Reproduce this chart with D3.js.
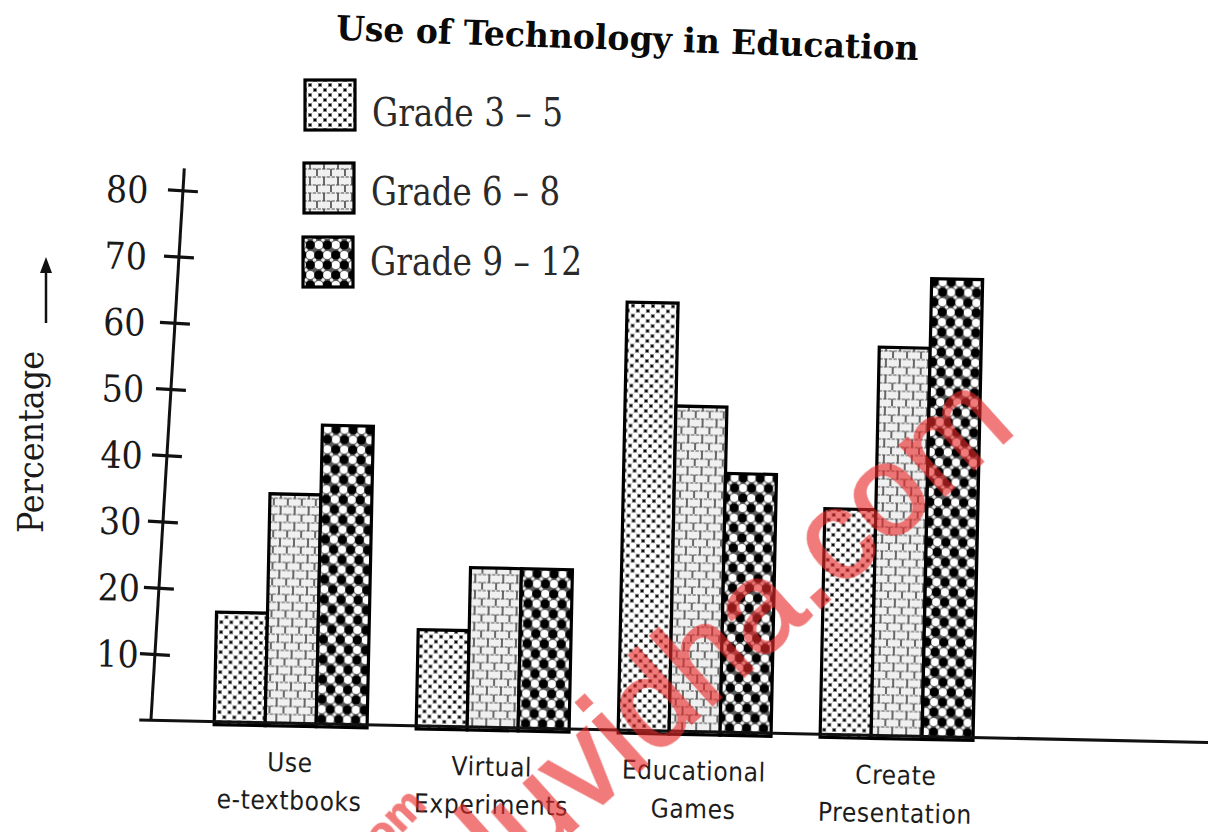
<!DOCTYPE html>
<html><head><meta charset="utf-8">
<script src="https://cdn.jsdelivr.net/npm/d3@7"></script>
<style>body{margin:0;background:#fff}svg{display:block}</style>
</head><body><svg id="c" width="1208" height="832"></svg>
<script>
// ---- data ----
const categories = [["Use","e-textbooks"],["Virtual","Experiments"],["Educational","Games"],["Create","Presentation"]];
const seriesNames = ["Grade 3 \u2013 5","Grade 6 \u2013 8","Grade 9 \u2013 12"];
const grade3to5  = [16.5, 14.5, 64.5, 34];
const grade6to8  = [34.5, 24, 49, 58.5];
const grade9to12 = [45, 24, 39, 69];
const yTicks = [10,20,30,40,50,60,70,80];
const title = "Use of Technology in Education";
const yLabel = "Percentage";
const watermark = "eduvidha.com";

const series = [grade3to5, grade6to8, grade9to12];
const patIds = ["p35","p68","p912"];

const svg = d3.select("#c");
const defs = svg.append("defs");

// pattern: Grade 3-5 (pebbles)
const p1 = defs.append("pattern").attr("id","p35").attr("patternUnits","userSpaceOnUse").attr("width",10).attr("height",10);
p1.append("rect").attr("width",10).attr("height",10).attr("fill","#454545");
[[0,0],[10,0],[0,10],[10,10],[5,5]].forEach(([cx,cy])=>p1.append("circle").attr("cx",cx).attr("cy",cy).attr("r",3.45).attr("fill","#fff"));
[[5,0],[0,5],[10,5],[5,10]].forEach(([cx,cy])=>p1.append("circle").attr("cx",cx).attr("cy",cy).attr("r",1.3).attr("fill","#000"));

// pattern: Grade 6-8 (bricks)
const p2 = defs.append("pattern").attr("id","p68").attr("patternUnits","userSpaceOnUse").attr("width",14).attr("height",16);
p2.append("rect").attr("width",14).attr("height",16).attr("fill","#f0f0f0");
p2.append("path").attr("d","M0,1H14M0,9H14").attr("stroke","#858585").attr("stroke-width",1.7).attr("stroke-dasharray","3.5,1.2");
p2.append("path").attr("d","M2,1V9M9,9V17").attr("stroke","#505050").attr("stroke-width",1.7);

// pattern: Grade 9-12 (dark dots)
const p3 = defs.append("pattern").attr("id","p912").attr("patternUnits","userSpaceOnUse").attr("width",17).attr("height",20);
p3.append("rect").attr("width",17).attr("height",20).attr("fill","#5a5a5a");
[[12.75,5],[4.25,15],[-4.25,15],[21.25,15],[12.75,25],[12.75,-5]].forEach(([cx,cy])=>p3.append("circle").attr("cx",cx).attr("cy",cy).attr("r",4.0).attr("fill","#fff"));
[[4.25,5],[12.75,15]].forEach(([cx,cy])=>p3.append("circle").attr("cx",cx).attr("cy",cy).attr("r",4.5).attr("fill","#000"));
[[0,10],[17,10],[8.5,0],[8.5,20],[0,0],[17,0],[0,20],[17,20]].forEach(([cx,cy])=>p3.append("circle").attr("cx",cx).attr("cy",cy).attr("r",1.8).attr("fill","#eee"));

const serifC = "'DejaVu Serif Condensed','DejaVu Serif',serif";
const sansC = "'DejaVu Sans Condensed','DejaVu Sans',sans-serif";

// ---- chart (slightly rotated like the scan) ----
const g = svg.append("g").attr("transform","rotate(1.2,600,450)");

const x = d3.scaleBand().domain(d3.range(categories.length)).range([220,979]).paddingInner(0.243).paddingOuter(0);
const xs = d3.scaleBand().domain(d3.range(series.length)).range([0,x.bandwidth()]);
const y = d3.scaleLinear().domain([0,80]).range([729.6,198.7]);

const barData = [];
categories.forEach((c,i)=>series.forEach((s,j)=>barData.push({i,j,v:s[i]})));

g.selectAll("rect.bar").data(barData).join("rect").attr("class","bar")
  .attr("x",d=>x(d.i)+xs(d.j)).attr("width",xs.bandwidth())
  .attr("y",d=>y(d.v)).attr("height",d=>y(0)-y(d.v)+3)
  .attr("fill",d=>`url(#${patIds[d.j]})`).attr("stroke","#000").attr("stroke-width",3.2);

// baseline
g.append("line").attr("x1",145).attr("x2",1220).attr("y1",y(0)).attr("y2",y(0)).attr("stroke","#111").attr("stroke-width",3);

// y axis (hand-drawn tilt)
const ax0 = 156.7;
const axG = g.append("g").attr("transform",`rotate(2.26,${ax0},${y(0)})`);
axG.append("line").attr("x1",ax0).attr("x2",ax0).attr("y1",y(0)).attr("y2",y(80)-22).attr("stroke","#111").attr("stroke-width",3);
const tickG = axG.append("g").attr("transform",`translate(${ax0+15},0)`)
  .call(d3.axisLeft(y).tickValues(yTicks).tickSize(30).tickFormat(""));
tickG.select(".domain").remove();
tickG.selectAll(".tick line").attr("stroke","#111").attr("stroke-width",3.2);

// tick labels
const lblG = g.append("g").attr("transform","translate(143,0)")
  .call(d3.axisLeft(y).tickValues(yTicks).tickSize(0).tickPadding(0));
lblG.select(".domain").remove();
lblG.selectAll(".tick line").remove();
lblG.selectAll(".tick text").attr("font-family",serifC).attr("font-size",37).attr("fill","#1a1a1a").attr("dy","0.36em");

// category labels
const catT = g.selectAll("text.cat").data(categories).join("text").attr("class","cat")
  .attr("text-anchor","middle").attr("font-family",sansC).attr("font-size",26).attr("fill","#1c1c1c").attr("letter-spacing",0.6);
catT.each(function(d,i){
  const t = d3.select(this);
  d.forEach((line,k)=>t.append("tspan").attr("x",x(i)+x.bandwidth()/2).attr("y",778+k*38).text(line));
});

// ---- title ----
svg.append("text").attr("transform","translate(627,50) rotate(2)").attr("text-anchor","middle")
  .attr("font-family",serifC).attr("font-weight","bold").attr("font-size",34).attr("fill","#0a0a0a")
  .attr("textLength",583).attr("lengthAdjust","spacingAndGlyphs").text(title);

// ---- legend ----
const legTop = [80,163,237], legLen = [191,189,212];
const leg = svg.selectAll("g.leg").data(seriesNames).join("g").attr("class","leg");
leg.append("rect").attr("x",(d,i)=>305-i).attr("y",(d,i)=>legTop[i]).attr("width",50).attr("height",50)
  .attr("fill",(d,i)=>`url(#${patIds[i]})`).attr("stroke","#000").attr("stroke-width",3.2);
leg.append("text").attr("x",(d,i)=>372-i).attr("y",(d,i)=>legTop[i]+46-i*4)
  .attr("font-family",serifC).attr("font-size",40).attr("fill","#2a2a2a")
  .attr("textLength",(d,i)=>legLen[i]).attr("lengthAdjust","spacingAndGlyphs").text(d=>d);

// ---- y label + arrow ----
svg.append("text").attr("transform","translate(43,442) rotate(-90)").attr("text-anchor","middle")
  .attr("font-family",serifC).attr("font-size",36).attr("fill","#1a1a1a")
  .attr("textLength",182).attr("lengthAdjust","spacingAndGlyphs").text(yLabel);
svg.append("line").attr("x1",46).attr("x2",46).attr("y1",323).attr("y2",268).attr("stroke","#111").attr("stroke-width",2.5);
svg.append("path").attr("d","M46,257L40,273L52,273Z").attr("fill","#111");

// ---- watermark ----
const wm = svg.append("g").attr("opacity",0.62).attr("fill","#e82a2a").attr("stroke","#e82a2a");
wm.append("text").attr("transform","translate(1018,430) rotate(-42)").attr("text-anchor","end")
  .attr("font-family","'Liberation Sans',Arial,sans-serif").attr("font-size",128).attr("stroke-width",2.5).text(watermark);
wm.append("text").attr("transform","translate(428,806) rotate(-46)").attr("text-anchor","end")
  .attr("font-family","'Liberation Sans',Arial,sans-serif").attr("font-weight","bold").attr("font-size",44).attr("stroke-width",1).text(watermark);
</script></body></html>
